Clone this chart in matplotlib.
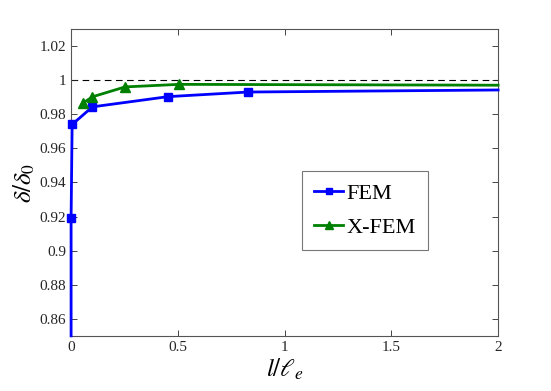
import numpy as np
import matplotlib.pyplot as plt

plt.rcParams['font.family'] = ['Liberation Serif', 'DejaVu Serif']
plt.rcParams['mathtext.fontset'] = 'stix'

# data (end points sit on the axes edges)
fem_x = [0.0, 0.0, 0.005, 0.1, 0.455, 0.83, 2.0]
fem_y = [0.85, 0.919, 0.974, 0.9843, 0.9903, 0.993, 0.9942]
xfem_x = [0.055, 0.1, 0.253, 0.506, 2.0]
xfem_y = [0.9865, 0.9902, 0.996, 0.9975, 0.997]

fig = plt.figure(figsize=(5.51, 3.91), dpi=100)
ax = fig.add_axes([0.129, 0.141, 0.775, 0.785])

ax.axhline(1.0, color='k', ls=(0, (6, 4)), lw=0.8, zorder=1)
ax.plot(fem_x, fem_y, '-s', color='#0000ff', lw=2, ms=6, label='FEM',
        markevery=[1, 2, 3, 4, 5], clip_on=False, zorder=3)
ax.plot(xfem_x, xfem_y, '-^', color='#008000', lw=2, ms=7, label='X-FEM',
        markevery=[0, 1, 2, 3], clip_on=False, zorder=3)

ax.set_xlim(0, 2)
ax.set_ylim(0.85, 1.03)
ax.set_xticks([0, 0.5, 1, 1.5, 2])
ax.set_xticklabels(['0', '0.5', '1', '1.5', '2'])
ax.set_yticks(np.arange(0.86, 1.021, 0.02))
ax.set_yticklabels(['0.86', '0.88', '0.9', '0.92', '0.94', '0.96', '0.98', '1', '1.02'])
ax.tick_params(direction='in', top=True, right=True, labelsize=11, colors='#262626', length=4, width=0.6)
for s in ax.spines.values():
    s.set_color('#555555')
    s.set_linewidth(0.8)

ax.set_xlabel(r'$l/\ell_e$', fontsize=18, labelpad=2)
ax.set_ylabel(r'$\delta/\delta_0$', fontsize=18, labelpad=2)

leg = ax.legend(loc='upper left', bbox_to_anchor=(0.541, 0.537), fontsize=16, fancybox=False,
                edgecolor='#555555', handlelength=1.3, handletextpad=0.15, borderpad=0.55,
                labelspacing=0.6, markerscale=0.8, borderaxespad=0)
leg.get_frame().set_linewidth(0.8)

fig.savefig('out.png', dpi=100)
